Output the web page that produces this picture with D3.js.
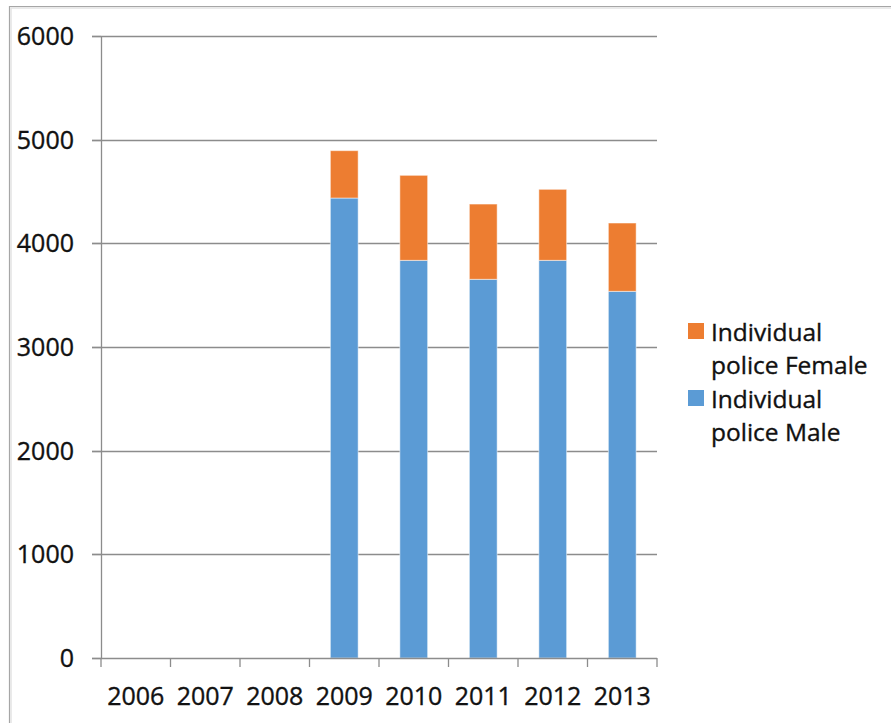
<!DOCTYPE html>
<html>
<head>
<meta charset="utf-8">
<script src="https://cdn.jsdelivr.net/npm/d3@7/dist/d3.min.js"></script>
<style>
  html, body { margin: 0; padding: 0; background: #fff; }
  svg { display: block; }
  text { font-family: "Open Sans", "DejaVu Sans", sans-serif; fill: #111; stroke: #111; stroke-width: 0.35px; }
</style>
</head>
<body>
<svg id="chart" width="891" height="723"></svg>
<script>
// Individual police deployed, by year and gender
const years = ["2006", "2007", "2008", "2009", "2010", "2011", "2012", "2013"];
const male = [0, 0, 0, 4437, 3836, 3653, 3836, 3537];
const female = [0, 0, 0, 457, 820, 726, 685, 659];
const yTicks = [0, 1000, 2000, 3000, 4000, 5000, 6000];
const seriesNames = ["Individual police Male", "Individual police Female"];
const seriesColors = ["#5b9bd5", "#ed7d31"];

const svg = d3.select("#chart");

// chart frame (left and top edges visible)
svg.append("path")
  .attr("d", "M9.5,723 V6.5 H891")
  .attr("fill", "none")
  .attr("stroke", "#a6a6a6")
  .attr("stroke-width", 1.2);
svg.append("path")
  .attr("d", "M11,723 V8 H891")
  .attr("fill", "none")
  .attr("stroke", "#e4e4e4")
  .attr("stroke-width", 1.5);

const plot = { left: 101, right: 657, top: 36, bottom: 658 };

const x = d3.scaleBand().domain(years).range([plot.left, plot.right]).paddingInner(0.6).paddingOuter(0.3);
const xBand = d3.scaleBand().domain(years).range([plot.left, plot.right]);
const y = d3.scaleLinear().domain([0, 6000]).range([plot.bottom, plot.top]);

// horizontal gridlines
svg.append("g")
  .selectAll("line")
  .data(yTicks.filter(t => t > 0))
  .join("line")
  .attr("x1", plot.left - 9)
  .attr("x2", plot.right)
  .attr("y1", d => Math.round(y(d)) + 0.5)
  .attr("y2", d => Math.round(y(d)) + 0.5)
  .attr("stroke", "#8c8c8c")
  .attr("stroke-width", 1.3);

// stacked bars
const table = years.map((yr, i) => ({ year: yr, male: male[i], female: female[i] }));
const stack = d3.stack().keys(["male", "female"])(table);

svg.append("g")
  .selectAll("g")
  .data(stack)
  .join("g")
  .attr("fill", (d, i) => seriesColors[i])
  .selectAll("rect")
  .data(d => d.filter(p => p[1] - p[0] > 0))
  .join("rect")
  .attr("x", d => x(d.data.year))
  .attr("width", x.bandwidth())
  .attr("y", d => y(d[1]))
  .attr("height", d => y(d[0]) - y(d[1]))
  .attr("stroke", "#ffffff")
  .attr("stroke-opacity", 0.5)
  .attr("stroke-width", 1);

// y axis line and labels
const yAxis = svg.append("g");
yAxis.append("line")
  .attr("x1", plot.left + 0.5).attr("x2", plot.left + 0.5)
  .attr("y1", plot.top).attr("y2", plot.bottom)
  .attr("stroke", "#8c8c8c").attr("stroke-width", 1.3);
yAxis.selectAll("line.tick")
  .data(yTicks)
  .join("line")
  .attr("class", "tick")
  .attr("x1", plot.left - 9).attr("x2", plot.left)
  .attr("y1", d => Math.round(y(d)) + 0.5)
  .attr("y2", d => Math.round(y(d)) + 0.5)
  .attr("stroke", "#8c8c8c").attr("stroke-width", 1.3);
yAxis.selectAll("text")
  .data(yTicks)
  .join("text")
  .attr("x", 74)
  .attr("y", d => y(d) + 9)
  .attr("text-anchor", "end")
  .attr("font-size", 25)
  .text(d => d);

// x axis baseline, ticks and labels
const xAxis = svg.append("g");
xAxis.append("line")
  .attr("x1", plot.left - 9).attr("x2", plot.right)
  .attr("y1", plot.bottom + 0.5).attr("y2", plot.bottom + 0.5)
  .attr("stroke", "#8c8c8c").attr("stroke-width", 1.3);
xAxis.selectAll("line.tick")
  .data(years.concat(["end"]))
  .join("line")
  .attr("class", "tick")
  .attr("x1", d => d === "end" ? plot.right : xBand(d))
  .attr("x2", d => d === "end" ? plot.right : xBand(d))
  .attr("y1", plot.bottom)
  .attr("y2", plot.bottom + 9)
  .attr("stroke", "#8c8c8c").attr("stroke-width", 1.3);
xAxis.selectAll("text")
  .data(years)
  .join("text")
  .attr("x", d => xBand(d) + xBand.bandwidth() / 2)
  .attr("y", 705)
  .attr("text-anchor", "middle")
  .attr("font-size", 25)
  .text(d => d);

// legend (female listed first, as stacked top-down)
const legend = svg.append("g");
const legendItems = [
  { lines: ["Individual", "police Female"], color: seriesColors[1], top: 323 },
  { lines: ["Individual", "police Male"], color: seriesColors[0], top: 390 }
];
legendItems.forEach(item => {
  legend.append("rect")
    .attr("x", 688).attr("y", item.top)
    .attr("width", 16).attr("height", 16)
    .attr("fill", item.color);
  item.lines.forEach((ln, j) => {
    legend.append("text")
      .attr("x", 711)
      .attr("y", item.top + 18 + j * 33)
      .attr("font-size", 24.5)
      .text(ln);
  });
});
</script>
</body>
</html>
